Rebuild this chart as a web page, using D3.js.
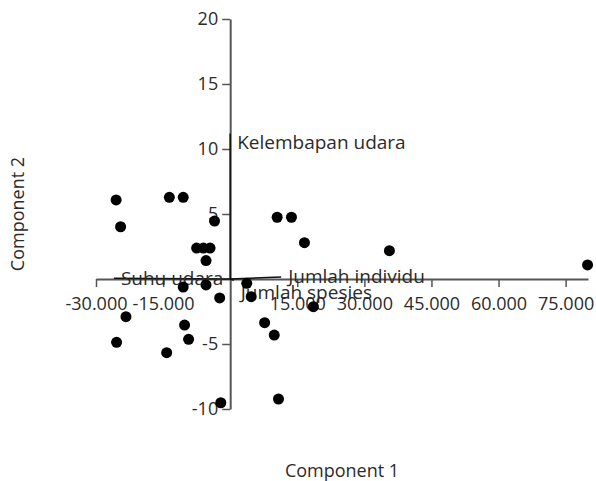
<!DOCTYPE html>
<html>
<head>
<meta charset="utf-8">
<script src="https://cdn.jsdelivr.net/npm/d3@7"></script>
<style>
  body { margin: 0; background: #fff; }
  svg { display: block; }
  text { font-family: "Open Sans", "Noto Sans", sans-serif; fill: #2b2b2b; }
</style>
</head>
<body>
<svg id="chart"></svg>
<script>
// PCA scores (Component 1, Component 2)
const comp1 = [-25500, -24500, -13600, -10500, -3500, -7500, -6000, -4500, -5400, -10500,
               -5400, -2350, -23300, -25400, -14200, -10200, -9300, -2100, 10500, 13700,
               16600, 35600, 3700, 4700, 18600, 7700, 9850, 10800, 79900];
const comp2 = [6.08, 4.02, 6.28, 6.28, 4.46, 2.38, 2.38, 2.38, 1.42, -0.62,
               -0.46, -1.46, -2.9, -4.87, -5.67, -3.54, -4.64, -9.52, 4.75, 4.75,
               2.79, 2.18, -0.33, -1.36, -2.13, -3.36, -4.31, -9.23, 1.08];

// loading vectors
const loadNames = ["Kelembapan udara", "Suhu udara", "Jumlah individu", "Jumlah spesies"];
const loadX = [0, -26000, 11400, 800];
const loadY = [11.2, 0.05, 0.15, -0.1];

const xTicks = [-30000, -15000, 15000, 30000, 45000, 60000, 75000];
const yTicks = [-10, -5, 5, 10, 15, 20];

const width = 596, height = 481;
const fontSize = 18;
// label placement offsets (px) relative to vector tips
const labelOffset = [[7, 9], [7, 0], [7, -1], [7, 12]];

const svg = d3.select("#chart").attr("width", width).attr("height", height);

const x = d3.scaleLinear().domain([-30000, 80000]).range([96, 588]);
const y = d3.scaleLinear().domain([-10, 20]).range([409, 19]);

const idLocale = d3.formatLocale({decimal: ",", thousands: ".", grouping: [3], currency: ["Rp", ""], minus: "-"});
const fmtX = idLocale.format(",.0f");

// axes crossing at the origin
const axisX = d3.axisBottom(x).tickValues(xTicks).tickFormat(fmtX).tickSize(8).tickSizeOuter(0).tickPadding(10);
const axisY = d3.axisLeft(y).tickValues(yTicks).tickFormat(d => String(d)).tickSize(8).tickSizeOuter(0).tickPadding(4);

const gx = svg.append("g").attr("transform", `translate(0,${y(0)})`).call(axisX);
const gy = svg.append("g").attr("transform", `translate(${x(0)},0)`).call(axisY);

[gx, gy].forEach(g => {
    g.select(".domain").attr("stroke", "#555").attr("stroke-width", 2);
    g.selectAll(".tick line").attr("stroke", "#555").attr("stroke-width", 1.5);
    g.selectAll(".tick text").attr("font-size", fontSize).attr("font-family", null).attr("fill", "#2b2b2b");
});

// loading vectors
svg.selectAll("line.vec").data(loadNames).join("line").attr("class", "vec")
    .attr("x1", x(0)).attr("y1", y(0))
    .attr("x2", (d, i) => x(loadX[i])).attr("y2", (d, i) => y(loadY[i]))
    .attr("stroke", "#111").attr("stroke-width", 1.5);

svg.selectAll("text.vlab").data(loadNames).join("text").attr("class", "vlab")
    .attr("x", (d, i) => x(loadX[i]) + labelOffset[i][0])
    .attr("y", (d, i) => y(loadY[i]) + labelOffset[i][1])
    .attr("dy", "0.35em")
    .attr("font-size", fontSize + 1)
    .text(d => d);

// score points
svg.selectAll("circle.pt").data(comp1).join("circle").attr("class", "pt")
    .attr("cx", d => x(d)).attr("cy", (d, i) => y(comp2[i]))
    .attr("r", 5.5).attr("fill", "#000");

// axis titles
svg.append("text").attr("x", (x.range()[0] + x.range()[1]) / 2).attr("y", 471)
    .attr("dy", "0.35em").attr("text-anchor", "middle").attr("font-size", fontSize).text("Component 1");
svg.append("text").attr("transform", `translate(18,${(y.range()[0] + y.range()[1]) / 2}) rotate(-90)`)
    .attr("dy", "0.35em").attr("text-anchor", "middle").attr("font-size", fontSize).text("Component 2");
</script>
</body>
</html>
